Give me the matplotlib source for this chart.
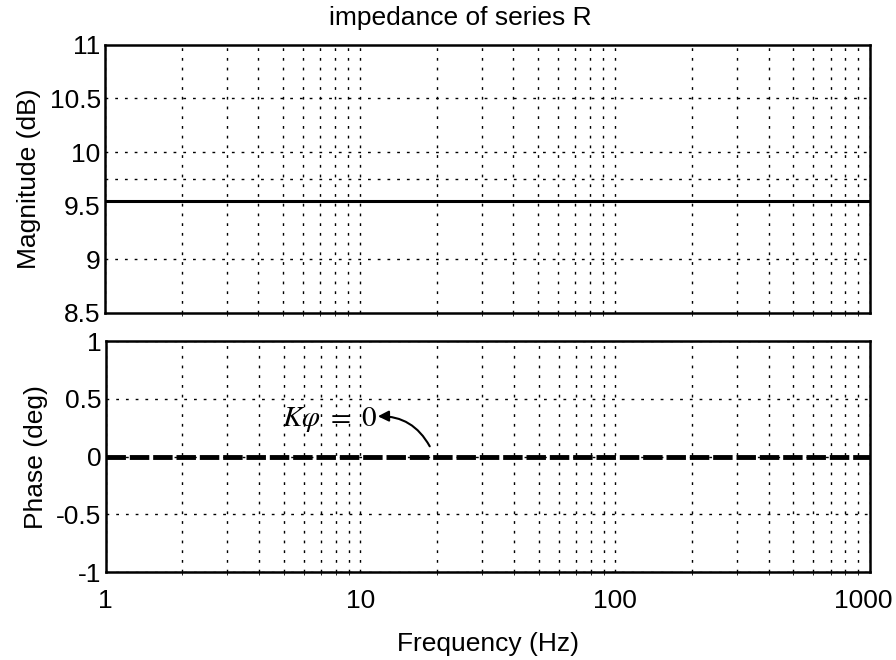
import numpy as np
import matplotlib
matplotlib.use("Agg")
import matplotlib.pyplot as plt
import matplotlib.transforms as mtransforms

# values
freq = [1, 1000]
magnitude_db = [9.54, 9.54]
phase_deg = [0, 0]
mag_ticks = [8.5, 9, 9.5, 10, 10.5, 11]
mag_grid = [9, 9.75, 10, 10.5]
phase_ticks = [-1, -0.5, 0, 0.5, 1]
freq_ticks = [1, 10, 100, 1000]
freq_labels = ["1", "10", "100", "1000"]

plt.rcParams['font.family'] = ['Liberation Sans', 'DejaVu Sans']
plt.rcParams['mathtext.fontset'] = 'stix'

fig = plt.figure(figsize=(8.96, 6.6), dpi=100)
ax1 = fig.add_axes([0.117, 0.526, 0.854, 0.406])
ax2 = fig.add_axes([0.118, 0.133, 0.853, 0.350])

grid_kw = dict(color="black", linestyle=(0, (2, 5)), linewidth=1.0)
FS = 19


def style_axis(ax, yticks):
    ax.set_xscale("log")
    ax.set_xlim(freq[0], freq[-1])
    ax.set_yticks(yticks)
    ax.set_ylim(yticks[0], yticks[-1])
    ax.set_yticklabels([f"{t:g}" for t in yticks])
    ax.tick_params(length=0, labelsize=FS, pad=3)
    ax.grid(True, which="both", axis="x", **grid_kw)
    for s in ax.spines.values():
        s.set_linewidth(1.8)


style_axis(ax1, mag_ticks)
for yv in mag_grid:
    ax1.axhline(yv, **grid_kw)
ax1.plot(freq, magnitude_db, color="black", linewidth=2.2)
ax1.set_xticks(freq_ticks)
ax1.set_xticklabels([])
ax1.set_ylabel("Magnitude (dB)", fontsize=FS, labelpad=6)
ax1.set_title("impedance of series R", fontsize=FS, pad=14, x=0.464)

style_axis(ax2, phase_ticks)
ax2.grid(True, which="major", axis="y", **grid_kw)
ax2.plot(freq, phase_deg, color="black", linewidth=3.5, linestyle=(0, (4, 0.8)))
ax2.set_xticks(freq_ticks)
ax2.set_xticklabels(freq_labels)
ax2.tick_params(axis="x", pad=12)
ax2.set_ylabel("Phase (deg)", fontsize=FS, labelpad=6)
ax2.set_xlabel("Frequency (Hz)", fontsize=FS, labelpad=14)

# nudge the last tick label so it stays inside the figure
last = ax2.get_xticklabels()[-1]
last.set_transform(last.get_transform() +
                   mtransforms.ScaledTranslation(-7 / 100, 0, fig.dpi_scale_trans))

ax2.text(4.9, 0.32, r"$K\varphi\ =\ 0$", fontsize=21, va="center", ha="left")
ax2.annotate("", xy=(11.7, 0.35), xytext=(18.7, 0.09),
             arrowprops=dict(arrowstyle="-|>", color="black", lw=1.5,
                             mutation_scale=16,
                             connectionstyle="arc3,rad=0.3",
                             shrinkA=0, shrinkB=0))

fig.savefig("out.png", dpi=100)
